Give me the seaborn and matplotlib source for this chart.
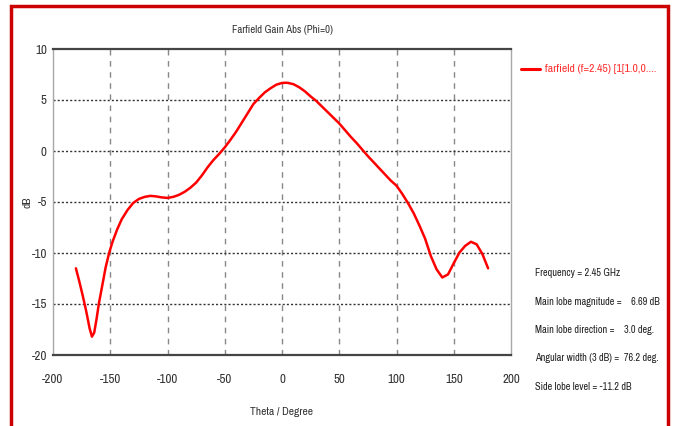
import matplotlib
matplotlib.use("Agg")
import matplotlib.pyplot as plt
import seaborn as sns
import pandas as pd
from matplotlib.patches import Rectangle
from matplotlib import font_manager

theta = [-180, -177, -174, -171, -168, -166, -164, -162, -160, -157, -154, -151, -148,
         -144, -140, -135, -130, -125, -120, -115, -110, -105, -100, -95, -90, -85, -80,
         -75, -70, -65, -60, -55, -50, -45, -40, -35, -30, -25, -20, -15, -10, -5, 0, 3,
         5, 10, 15, 20, 25, 30, 35, 40, 45, 50, 55, 60, 65, 70, 75, 80, 85, 90, 95, 100,
         105, 110, 115, 120, 125, 130, 135, 140, 145, 150, 155, 160, 165, 170, 175, 180]
gain_db = [-11.5, -12.8, -14.2, -15.7, -17.4, -18.2, -17.8, -16.5, -15.0, -13.2, -11.4, -10.0, -8.9,
           -7.7, -6.7, -5.8, -5.1, -4.7, -4.5, -4.4, -4.45, -4.55, -4.6, -4.5, -4.3, -4.0, -3.6,
           -3.1, -2.4, -1.6, -0.9, -0.3, 0.35, 1.1, 1.9, 2.8, 3.7, 4.6, 5.2, 5.75, 6.15, 6.5, 6.67, 6.69,
           6.68, 6.55, 6.25, 5.85, 5.35, 4.9, 4.35, 3.8, 3.25, 2.7, 2.05, 1.4, 0.8, 0.15, -0.5, -1.1, -1.7, -2.3, -2.9, -3.4,
           -4.2, -5.1, -6.1, -7.3, -8.6, -10.3, -11.6, -12.4, -12.1, -11.0, -9.95, -9.3, -8.9, -9.15, -10.1, -11.5]

x_ticks = [-200, -150, -100, -50, 0, 50, 100, 150, 200]
y_ticks = [-20, -15, -10, -5, 0, 5, 10]

title = "Farfield Gain Abs (Phi=0)"
x_label = "Theta / Degree"
y_label = "dB"
legend_label = "farfield (f=2.45) [1[1.0,0...."
info_lines = ["Frequency = 2.45 GHz",
              "Main lobe magnitude =    6.69 dB",
              "Main lobe direction =    3.0 deg.",
              "Angular width (3 dB) =  76.2 deg.",
              "Side lobe level = -11.2 dB"]

sns.set_style("white")

# pick the narrowest available face
ttf = font_manager.fontManager.ttflist
stretch = "normal"
family = None
for f in ttf:
    if ("Narrow" in f.name or "Condensed" in f.name):
        family = f.name
        break
if family is None:
    for f in ttf:
        if f.name == "DejaVu Sans" and str(f.stretch) in ("condensed", "semi-condensed"):
            family = "DejaVu Sans"
            stretch = "condensed"
            break
if family is None:
    family = "Liberation Sans"
plt.rcParams["font.family"] = [family, "DejaVu Sans"]
plt.rcParams["font.stretch"] = stretch

W, H = 678, 426
fig = plt.figure(figsize=(W / 100, H / 100), dpi=100)
ax = fig.add_axes([53 / W, 1 - 355 / H, (511 - 53) / W, (355 - 49) / H])

df = pd.DataFrame({"theta": theta, "gain": gain_db})
sns.lineplot(data=df, x="theta", y="gain", ax=ax, color="#ff0000", linewidth=1.8,
             legend=False)

ax.set_xlim(-200, 200)
ax.set_ylim(-20, 10)
ax.set_xticks(x_ticks)
ax.set_yticks(y_ticks)
ax.set_xticklabels([str(v) for v in x_ticks])
ax.set_yticklabels([str(v) for v in y_ticks])

for v in x_ticks[1:-1]:
    ax.axvline(v, color="#888888", linestyle=(0, (4, 4)), linewidth=1, zorder=0)
for v in y_ticks[1:-1]:
    ax.axhline(v, color="#333333", linestyle=(0, (1.5, 1.5)), linewidth=1, zorder=0)

for s in ["top", "bottom"]:
    ax.spines[s].set_color("#444444")
    ax.spines[s].set_linewidth(1.6)
for s in ["left", "right"]:
    ax.spines[s].set_color("#a8a8a8")
    ax.spines[s].set_linewidth(1.0)

renderer = fig.canvas.get_renderer()


def fit(txt, target, lo=6.0, hi=11.0):
    size = txt.get_fontsize()
    w = txt.get_window_extent(renderer).width
    new = max(lo, min(hi, size * target / w))
    txt.set_fontsize(new)
    return new


# tick label size from "-200"
probe = fig.text(0, 0, "-200", fontsize=10)
tsize = fit(probe, 21, 6.5, 10)
probe.remove()
ax.tick_params(axis="both", labelsize=tsize, labelcolor="#333333", length=3, width=1,
               direction="out", color="#999999")
ax.tick_params(axis="x", pad=11.0)
ax.tick_params(axis="y", pad=1.5)

xl = ax.set_xlabel(x_label, fontsize=10, color="#333333")
ax.xaxis.set_label_coords(0.5, (355 - 412) / 306)
xl.set_va("center")
lsize = fit(xl, 63, 6.5, 11)
yl = ax.set_ylabel(y_label, fontsize=lsize, color="#333333")
ax.yaxis.set_label_coords((27 - 53) / 458, 0.5)
yl.set_va("center")

tt = ax.set_title(title, fontsize=10, color="#333333", y=(355 - 30) / 306, va="center", pad=0)
fit(tt, 101, 6.5, 11)

# legend
fig.add_artist(plt.Line2D([521 / W, 540 / W], [1 - 69 / H, 1 - 69 / H], color="#ff0000", linewidth=2.2))
lg = fig.text(545 / W, 1 - 69 / H, legend_label, color="#ff3030", fontsize=10, va="center", ha="left")
fit(lg, 110, 6.0, 11)

ys = [272.7, 301.7, 330, 358, 386.7]
texts = []
for line, yy in zip(info_lines, ys):
    texts.append(fig.text(535 / W, 1 - yy / H, line, color="#222222", fontsize=10, va="center", ha="left"))
isize = fit(texts[1], 125, 6.0, 11)
for t in texts:
    t.set_fontsize(isize)

fig.add_artist(Rectangle((11 / W, -0.05), (668 - 11) / W, 1.05 - 6 / H, transform=fig.transFigure,
                         fill=False, edgecolor="#cc0000", linewidth=2.5))

fig.savefig("out.png", dpi=100, facecolor="white")
